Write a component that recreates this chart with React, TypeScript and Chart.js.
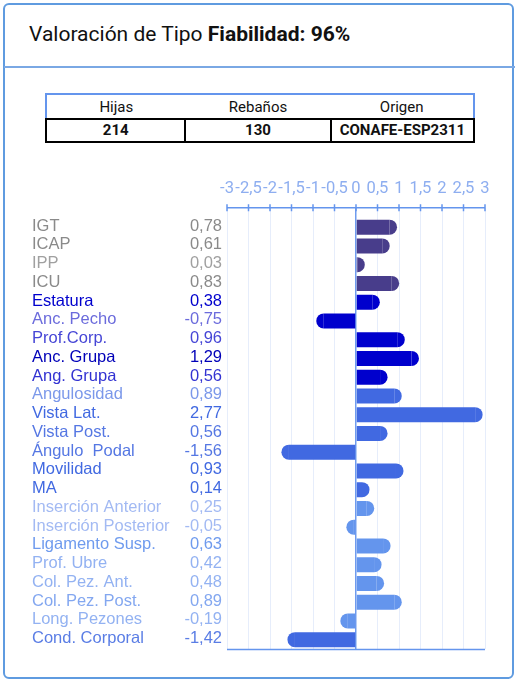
import React, { useEffect, useRef } from "react";
import { Chart, registerables } from "chart.js";

Chart.register(...registerables);

const categories = [
  "IGT", "ICAP", "IPP", "ICU", "Estatura", "Anc. Pecho", "Prof.Corp.", "Anc. Grupa",
  "Ang. Grupa", "Angulosidad", "Vista Lat.", "Vista Post.", "Ángulo  Podal", "Movilidad",
  "MA", "Inserción Anterior", "Inserción Posterior", "Ligamento Susp.", "Prof. Ubre",
  "Col. Pez. Ant.", "Col. Pez. Post.", "Long. Pezones", "Cond. Corporal",
];
const values = [
  0.78, 0.61, 0.03, 0.83, 0.38, -0.75, 0.96, 1.29, 0.56, 0.89, 2.77, 0.56, -1.56, 0.93,
  0.14, 0.25, -0.05, 0.63, 0.42, 0.48, 0.89, -0.19, -1.42,
];
const barColors = [
  "#483D8B", "#483D8B", "#483D8B", "#483D8B",
  "#0000CD", "#0000CD", "#0000CD", "#0000CD", "#0000CD",
  "#4169E1", "#4169E1", "#4169E1", "#4169E1", "#4169E1", "#4169E1",
  "#6495ED", "#6495ED", "#6495ED", "#6495ED", "#6495ED", "#6495ED", "#6495ED",
  "#4169E1",
];
const labelColors = [
  "#8a8a8a", "#8a8a8a", "#a0a0a0", "#8a8a8a",
  "#0000CD", "#6b6bdc", "#4646d6", "#0000b8", "#3232d2",
  "#7b98ea", "#4169E1", "#5577e3", "#5577e3", "#4169E1", "#4169E1",
  "#a3baf3", "#a3baf3", "#6f9bee", "#93b2f2", "#93b2f2", "#83a7f0", "#93b2f2",
  "#5a7de5",
];
const tableHeaders = ["Hijas", "Rebaños", "Origen"];
const tableValues = ["214", "130", "CONAFE-ESP2311"];

const fmt = (v: number) => String(Number(v.toFixed(2))).replace(".", ",");

const sidePlugin = {
  id: "sideLabels",
  afterDatasetsDraw(chart: any) {
    const ctx = chart.ctx;
    const meta = chart.getDatasetMeta(0);
    ctx.save();
    meta.data.forEach((bar: any, i: number) => {
      const p = bar.getProps(["x", "y", "base", "height"], true);
      const r = p.height / 2;
      ctx.fillStyle = barColors[i];
      ctx.beginPath();
      if (values[i] >= 0) ctx.arc(p.x, p.y, r, -Math.PI / 2, Math.PI / 2);
      else ctx.arc(p.x, p.y, r, Math.PI / 2, (3 * Math.PI) / 2);
      ctx.fill();
    });
    const ys = chart.scales.y;
    ctx.font = "16.5px 'Liberation Sans'";
    ctx.textBaseline = "middle";
    categories.forEach((c, i) => {
      const y = ys.getPixelForValue(i) - 1;
      ctx.fillStyle = labelColors[i];
      ctx.textAlign = "left";
      ctx.fillText(c, 32, y);
      ctx.textAlign = "right";
      ctx.fillText(fmt(values[i]), 222, y);
    });
    ctx.restore();
  },
  afterDraw(chart: any) {
    const ctx = chart.ctx;
    const { left, right, top, bottom } = chart.chartArea;
    const xs = chart.scales.x;
    const ay = top - 10;
    ctx.save();
    ctx.strokeStyle = "#6495ED";
    ctx.lineWidth = 1.5;
    ctx.beginPath();
    ctx.moveTo(left, ay);
    ctx.lineTo(right, ay);
    ctx.moveTo(left, bottom + 0.5);
    ctx.lineTo(right, bottom + 0.5);
    xs.ticks.forEach((t: any) => {
      const x = xs.getPixelForValue(t.value);
      ctx.moveTo(x, ay - 3.5);
      ctx.lineTo(x, ay + 3.5);
    });
    ctx.stroke();
    ctx.restore();
  },
};

function BarChart() {
  const ref = useRef<HTMLCanvasElement | null>(null);
  useEffect(() => {
    if (!ref.current) return;
    const chart = new Chart(ref.current, {
      type: "bar",
      data: {
        labels: categories,
        datasets: [
          {
            data: values,
            backgroundColor: barColors,
            borderWidth: 0,
            barPercentage: 0.8,
            categoryPercentage: 1,
          },
        ],
      },
      options: {
        indexAxis: "y",
        animation: false,
        responsive: false,
        layout: { padding: { left: 227, right: 30, top: 20, bottom: 11 } },
        plugins: { legend: { display: false }, tooltip: { enabled: false } },
        scales: {
          x: {
            position: "top",
            min: -3,
            max: 3,
            border: { display: false },
            grid: {
              tickLength: 10,
              color: (c: any) => (c.tick && c.tick.value === 0 ? "#6f9bee" : "#e6edfb"),
              lineWidth: (c: any) => (c.tick && c.tick.value === 0 ? 1.5 : 1),
            },
            ticks: {
              stepSize: 0.5,
              autoSkip: false,
              maxRotation: 0,
              padding: 9,
              color: "#8eaef0",
              font: { family: "Roboto", size: 16.5 },
              callback: (v: any) => fmt(Number(v)),
            },
          },
          y: { display: false },
        },
      },
      plugins: [sidePlugin],
    });
    return () => chart.destroy();
  }, []);
  return <canvas ref={ref} width={515} height={510} style={{ position: "absolute", left: 0, top: 150 }} />;
}

export default function App() {
  const cell: React.CSSProperties = { textAlign: "center", padding: 0 };
  return (
    <div style={{ position: "absolute", left: 0, top: 0, width: 515, height: 681, fontFamily: "Roboto", overflow: "hidden" }}>
      <div
        style={{
          position: "absolute", left: 3, top: 3, width: 511, height: 676, boxSizing: "border-box",
          border: "2px solid #5f9be0", borderRadius: 6,
        }}
      />
      <div style={{ position: "absolute", left: 4, top: 66, width: 511, height: 2, background: "#7aa8e4" }} />
      <div style={{ position: "absolute", left: 29, top: 20, fontSize: 21, color: "#111", whiteSpace: "nowrap", lineHeight: "28px" }}>
        Valoración de Tipo <b>Fiabilidad: 96%</b>
      </div>
      <div style={{ position: "absolute", left: 45, top: 93, width: 430 }}>
        <div style={{ display: "flex", height: 25, boxSizing: "border-box", border: "2px solid #6495ED", borderBottom: "none", fontSize: 15, color: "#111", alignItems: "center" }}>
          {tableHeaders.map((h, i) => (
            <div key={i} style={{ ...cell, flex: i === 1 ? 146 : i === 0 ? 140 : 144 }}>{h}</div>
          ))}
        </div>
        <div style={{ display: "flex", height: 25, boxSizing: "border-box", border: "2px solid #000", fontSize: 15, fontWeight: 700, color: "#111", alignItems: "center" }}>
          {tableValues.map((h, i) => (
            <div
              key={i}
              style={{
                ...cell, flex: i === 1 ? 146 : i === 0 ? 140 : 144, height: "100%", lineHeight: "21px",
                borderLeft: i > 0 ? "2px solid #000" : "none",
              }}
            >
              {h}
            </div>
          ))}
        </div>
      </div>
      <BarChart />
    </div>
  );
}
